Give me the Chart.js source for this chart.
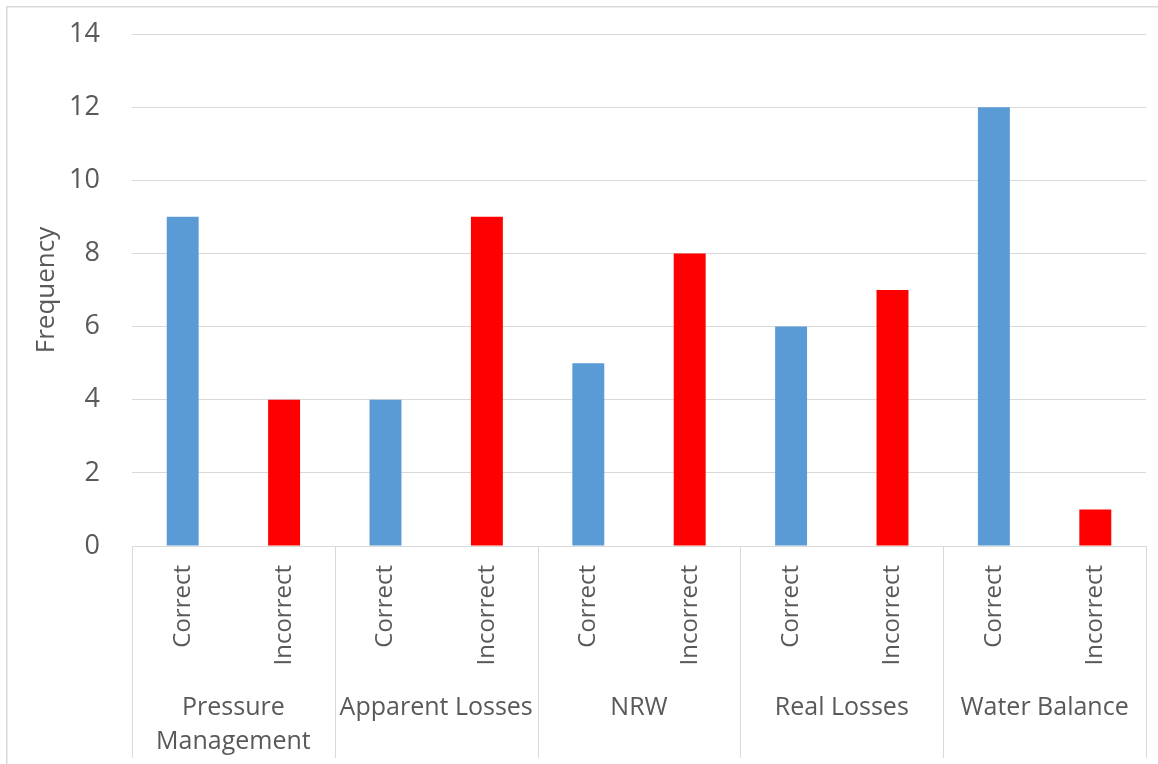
<!DOCTYPE html>
<html>
<head>
<meta charset="utf-8">
<script src="https://cdn.jsdelivr.net/npm/chart.js@4/dist/chart.umd.min.js"></script>
<style>
  html, body { margin: 0; padding: 0; background: #ffffff; }
  #wrap { width: 1158px; height: 764px; }
</style>
</head>
<body>
<div id="wrap"><canvas id="c" width="1158" height="764"></canvas></div>
<script>
// Survey answers per topic
const topics = [["Pressure", "Management"], "Apparent Losses", "NRW", "Real Losses", "Water Balance"];
const answers = ["Correct", "Incorrect"];
const correctCounts = [9, 4, 5, 6, 12];
const incorrectCounts = [4, 9, 8, 7, 1];
const yTicks = [0, 2, 4, 6, 8, 10, 12, 14];

const BLUE = "#5b9bd5";
const RED = "#ff0000";
const GRID = "#d9d9d9";
const TEXT = "#595959";
const FONT = "'Open Sans', 'Noto Sans', sans-serif";

// interleave Correct/Incorrect per topic
const labels = [];
const values = [];
const colors = [];
topics.forEach((t, i) => {
  labels.push(answers[0]); values.push(correctCounts[i]); colors.push(BLUE);
  labels.push(answers[1]); values.push(incorrectCounts[i]); colors.push(RED);
});

// Chart frame plus the second (topic) level of the category axis
const groupAxis = {
  id: "groupAxis",
  beforeDraw(chart) {
    const ctx = chart.ctx;
    ctx.save();
    ctx.fillStyle = "#ffffff";
    ctx.fillRect(0, 0, chart.width, chart.height);
    ctx.strokeStyle = GRID;
    ctx.lineWidth = 1.5;
    ctx.beginPath();
    ctx.moveTo(6.75, chart.height + 5);
    ctx.lineTo(6.75, 6.75);
    ctx.lineTo(chart.width + 5, 6.75);
    ctx.stroke();
    ctx.restore();
  },
  afterDraw(chart) {
    const ctx = chart.ctx;
    const x = chart.scales.x;
    const area = chart.chartArea;
    const step = x.getPixelForTick(1) - x.getPixelForTick(0);
    const lineEnd = chart.height - 6;
    ctx.save();
    ctx.strokeStyle = GRID;
    ctx.lineWidth = 1;
    const bounds = [];
    for (let g = 0; g < topics.length; g++) bounds.push(x.getPixelForTick(g * 2) - step / 2);
    bounds.push(x.getPixelForTick(labels.length - 1) + step / 2);
    bounds.forEach(b => {
      const px = Math.round(b) + 0.5;
      ctx.beginPath();
      ctx.moveTo(px, area.bottom);
      ctx.lineTo(px, lineEnd);
      ctx.stroke();
    });
    ctx.fillStyle = TEXT;
    ctx.font = "25px " + FONT;
    ctx.textAlign = "center";
    ctx.textBaseline = "middle";
    topics.forEach((t, g) => {
      const cx = (x.getPixelForTick(g * 2) + x.getPixelForTick(g * 2 + 1)) / 2;
      const lines = Array.isArray(t) ? t : [t];
      lines.forEach((ln, k) => ctx.fillText(ln, cx, area.bottom + 162 + k * 34));
    });
    ctx.restore();
  }
};

new Chart(document.getElementById("c"), {
  type: "bar",
  data: {
    labels: labels,
    datasets: [{
      label: "Frequency",
      data: values,
      backgroundColor: colors,
      borderWidth: 0,
      barPercentage: 0.315,
      categoryPercentage: 1.0
    }]
  },
  options: {
    responsive: false,
    animation: false,
    devicePixelRatio: 1,
    layout: { padding: { left: 0, top: 34, right: 12, bottom: 0 } },
    plugins: { legend: { display: false }, tooltip: { enabled: false } },
    scales: {
      x: {
        grid: { display: false, drawTicks: false },
        border: { display: true, color: GRID, width: 1 },
        ticks: {
          color: TEXT,
          font: { family: FONT, size: 24 },
          minRotation: 90,
          maxRotation: 90,
          padding: 19,
          autoSkip: false
        },
        afterFit(scale) {
          scale.height = 218;
          scale.paddingTop = 0;
          scale.paddingBottom = 0;
        }
      },
      y: {
        min: 0,
        max: 14,
        afterBuildTicks(scale) { scale.ticks = yTicks.map(v => ({ value: v })); },
        grid: { color: GRID, lineWidth: 1, drawTicks: false },
        border: { display: false },
        ticks: {
          color: TEXT,
          font: { family: FONT, size: 27 },
          padding: 32
        },
        title: {
          display: true,
          text: "Frequency",
          color: TEXT,
          font: { family: FONT, size: 26 },
          padding: { top: 31, bottom: 0 }
        },
        afterFit(scale) {
          scale.width = 132;
          scale.paddingTop = 0;
          scale.paddingBottom = 0;
        }
      }
    }
  },
  plugins: [groupAxis]
});
</script>
</body>
</html>
